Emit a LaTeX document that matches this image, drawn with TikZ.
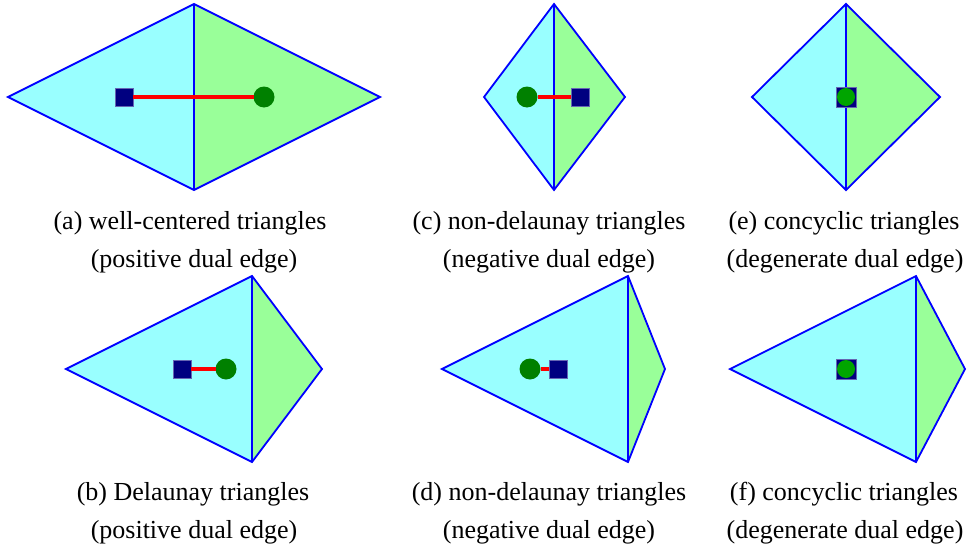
\documentclass[tikz,border=0pt]{standalone}
\usepackage{fontspec}
\setmainfont{Liberation Serif}
\begin{document}
\begin{tikzpicture}[x=1pt,y=-1pt,
  edgeline/.style={draw=blue,line width=1.8pt,line join=miter},
  lefttri/.style={fill=cyanfill},
  righttri/.style={fill=greenfill},
  sq/.style={fill=navy,draw=navy!60!white,line width=0.4pt,minimum size=18pt,inner sep=0pt,outer sep=0pt,rectangle},
  dot/.style={circle,fill=dkgreen,minimum size=21pt,inner sep=0pt,outer sep=0pt},
  dotb/.style={circle,fill=brgreen,minimum size=18pt,inner sep=0pt,outer sep=0pt},
  dual/.style={draw=red,line width=3.2pt},
  captext/.style={font=\fontsize{26}{37}\selectfont,anchor=base,inner sep=0pt}]
\definecolor{cyanfill}{RGB}{153,255,255}
\definecolor{greenfill}{RGB}{153,255,153}
\definecolor{navy}{RGB}{0,0,128}
\definecolor{dkgreen}{RGB}{0,128,0}
\definecolor{brgreen}{RGB}{0,165,0}
\useasboundingbox (0,0) rectangle (970,546);
% (a)
\coordinate (aL) at (8,97); \coordinate (aT) at (194,4); \coordinate (aB) at (194,190); \coordinate (aR) at (380,97);
\fill[lefttri] (aL)--(aT)--(aB)--cycle; \fill[righttri] (aT)--(aR)--(aB)--cycle;
\draw[edgeline] (aL)--(aT)--(aR)--(aB)--cycle (aT)--(aB);
\node[sq] (aS) at (124,97) {}; \node[dot] (aC) at (264,97) {};
\draw[dual] (aS.east)--(aC.west);
\node[captext] (capa1) at (190,229) {(a) well-centered triangles};
\node[captext] (capa2) at (194,267) {(positive dual edge)};
% (c)
\coordinate (cL) at (484,97); \coordinate (cT) at (554,4); \coordinate (cB) at (554,190); \coordinate (cR) at (625,97);
\fill[lefttri] (cL)--(cT)--(cB)--cycle; \fill[righttri] (cT)--(cR)--(cB)--cycle;
\draw[edgeline] (cL)--(cT)--(cR)--(cB)--cycle (cT)--(cB);
\node[dot] (cC) at (527,97) {}; \node[sq] (cS) at (580,97) {};
\draw[dual] (cC.east)--(cS.west);
\node[captext] (capc1) at (549,229) {(c) non-delaunay triangles};
\node[captext] (capc2) at (549,267) {(negative dual edge)};
% (e)
\coordinate (eL) at (752,97); \coordinate (eT) at (846,4); \coordinate (eB) at (846,190); \coordinate (eR) at (940,97);
\fill[lefttri] (eL)--(eT)--(eB)--cycle; \fill[righttri] (eT)--(eR)--(eB)--cycle;
\draw[edgeline] (eL)--(eT)--(eR)--(eB)--cycle (eT)--(eB);
\node[sq,minimum size=20pt] (eS) at (846,97) {}; \node[dotb] (eC) at (846,97) {};
\node[captext] (cape1) at (844,229) {(e) concyclic triangles};
\node[captext] (cape2) at (845,267) {(degenerate dual edge)};
% (b)
\coordinate (bL) at (66,369); \coordinate (bT) at (252,276); \coordinate (bB) at (252,462); \coordinate (bR) at (322,369);
\fill[lefttri] (bL)--(bT)--(bB)--cycle; \fill[righttri] (bT)--(bR)--(bB)--cycle;
\draw[edgeline] (bL)--(bT)--(bR)--(bB)--cycle (bT)--(bB);
\node[sq] (bS) at (182,369) {}; \node[dot] (bC) at (226,369) {};
\draw[dual] (bS.east)--(bC.west);
\node[captext] (capb1) at (193,500) {(b) Delaunay triangles};
\node[captext] (capb2) at (194,538) {(positive dual edge)};
% (d)
\coordinate (dL) at (442,369); \coordinate (dT) at (628,276); \coordinate (dB) at (628,462); \coordinate (dR) at (665,369);
\fill[lefttri] (dL)--(dT)--(dB)--cycle; \fill[righttri] (dT)--(dR)--(dB)--cycle;
\draw[edgeline] (dL)--(dT)--(dR)--(dB)--cycle (dT)--(dB);
\node[dot] (dC) at (530,369) {}; \node[sq] (dS) at (558,369) {};
\draw[dual] (dC.east)--(dS.west);
\node[captext] (capd1) at (549,500) {(d) non-delaunay triangles};
\node[captext] (capd2) at (549,538) {(negative dual edge)};
% (f)
\coordinate (fL) at (730,369); \coordinate (fT) at (916,276); \coordinate (fB) at (916,462); \coordinate (fR) at (965,369);
\fill[lefttri] (fL)--(fT)--(fB)--cycle; \fill[righttri] (fT)--(fR)--(fB)--cycle;
\draw[edgeline] (fL)--(fT)--(fR)--(fB)--cycle (fT)--(fB);
\node[sq,minimum size=20pt] (fS) at (846,369) {}; \node[dotb] (fC) at (846,369) {};
\node[captext] (capf1) at (844,500) {(f) concyclic triangles};
\node[captext] (capf2) at (845,538) {(degenerate dual edge)};
\end{tikzpicture}
\end{document}
